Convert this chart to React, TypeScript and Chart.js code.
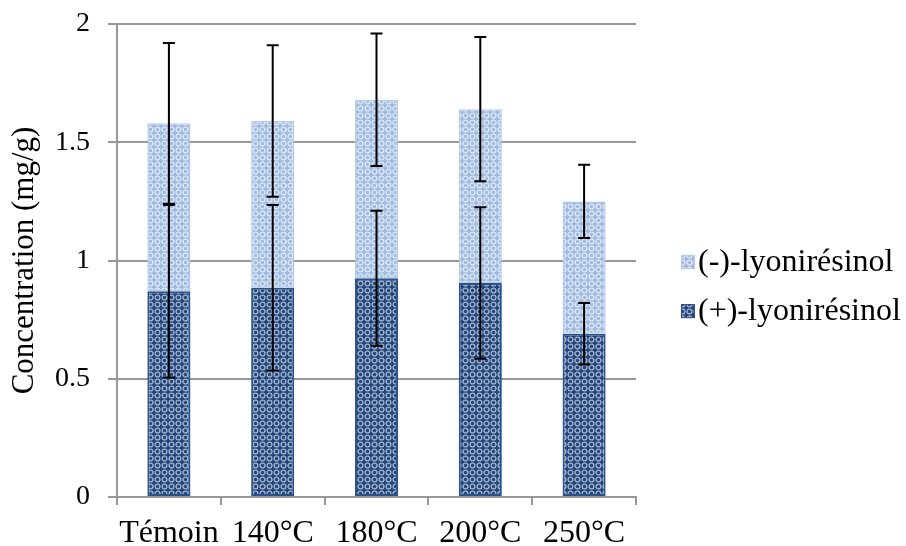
import React, { useEffect, useRef } from "react";
import { Chart, registerables } from "chart.js";

Chart.register(...registerables);

const categories = ["Témoin", "140°C", "180°C", "200°C", "250°C"];
const plusValues = [0.87, 0.885, 0.925, 0.905, 0.69];
const minusValues = [0.71, 0.705, 0.755, 0.735, 0.56];
const plusErrors = [0.365, 0.35, 0.285, 0.32, 0.13];
const minusErrors = [0.34, 0.32, 0.28, 0.305, 0.155];
const seriesLabels = ["(+)-lyonirésinol", "(-)-lyonirésinol"];
const yTicks = [0, 0.5, 1, 1.5, 2];

const FONT = "'Liberation Serif', 'Times New Roman', serif";

function makePattern(base: string, line: string): CanvasPattern | string {
  const n = 7;
  const c = document.createElement("canvas");
  c.width = n;
  c.height = n;
  const g = c.getContext("2d");
  if (!g) return base;
  g.fillStyle = base;
  g.fillRect(0, 0, n, n);
  g.strokeStyle = line;
  g.lineWidth = 1.4;
  g.beginPath();
  g.arc(n / 2, n / 2, 2.4, 0, Math.PI * 2);
  g.stroke();
  const p = g.createPattern(c, "repeat");
  return p || base;
}

const errorBarPlugin = {
  id: "errorBars",
  afterDatasetsDraw(chart: any) {
    const ctx = chart.ctx;
    const yScale = chart.scales.y;
    const errs = [plusErrors, minusErrors];
    ctx.save();
    ctx.strokeStyle = "#000";
    ctx.lineWidth = 2;
    chart.data.datasets.forEach((ds: any, di: number) => {
      const meta = chart.getDatasetMeta(di);
      meta.data.forEach((bar: any, i: number) => {
        let cum = 0;
        for (let k = 0; k <= di; k++) cum += chart.data.datasets[k].data[i];
        const e = errs[di][i];
        const yTop = yScale.getPixelForValue(cum + e);
        const yBot = yScale.getPixelForValue(cum - e);
        const x = bar.x;
        const cap = 6;
        ctx.beginPath();
        ctx.moveTo(x, yTop);
        ctx.lineTo(x, yBot);
        ctx.moveTo(x - cap, yTop);
        ctx.lineTo(x + cap, yTop);
        ctx.moveTo(x - cap, yBot);
        ctx.lineTo(x + cap, yBot);
        ctx.stroke();
      });
    });
    ctx.restore();
  },
};

const legendPlugin = {
  id: "customLegend",
  afterDraw(chart: any) {
    const ctx = chart.ctx;
    const area = chart.chartArea;
    const dsList = chart.data.datasets.slice().reverse();
    const x0 = area.right + 45;
    const yStart = chart.height * 0.48;
    ctx.save();
    ctx.font = `32px ${FONT}`;
    ctx.textBaseline = "middle";
    dsList.forEach((ds: any, i: number) => {
      const cy = yStart + i * 49;
      ctx.fillStyle = ds.backgroundColor;
      ctx.fillRect(x0, cy - 7, 14, 14);
      ctx.strokeStyle = ds.borderColor;
      ctx.lineWidth = 1;
      ctx.strokeRect(x0 + 0.5, cy - 6.5, 13, 13);
      ctx.fillStyle = "#000";
      ctx.fillText(ds.label, x0 + 17, cy + 1);
    });
    ctx.restore();
  },
};

export default function App() {
  const ref = useRef<HTMLCanvasElement | null>(null);

  useEffect(() => {
    document.body.style.margin = "0";
    const canvas = ref.current;
    if (!canvas) return;
    const darkPattern = makePattern("#22457B", "#9FB0C9");
    const lightPattern = makePattern("#9FBAE0", "#DCE6F4");
    const chart = new Chart(canvas, {
      type: "bar",
      data: {
        labels: categories,
        datasets: [
          {
            label: seriesLabels[0],
            data: plusValues,
            backgroundColor: darkPattern as any,
            borderColor: "#2B5289",
            borderWidth: 2,
            borderSkipped: false,
            categoryPercentage: 1,
            barPercentage: 0.415,
          },
          {
            label: seriesLabels[1],
            data: minusValues,
            backgroundColor: lightPattern as any,
            borderColor: "#B4C9E6",
            borderWidth: 1.5,
            borderSkipped: false,
            categoryPercentage: 1,
            barPercentage: 0.415,
          },
        ],
      },
      options: {
        responsive: false,
        animation: false,
        layout: { padding: { top: 24, right: 270, left: 0, bottom: 0 } },
        plugins: {
          legend: { display: false },
          tooltip: { enabled: false },
        },
        scales: {
          x: {
            stacked: true,
            offset: true,
            grid: {
              offset: true,
              drawOnChartArea: false,
              drawTicks: true,
              tickLength: 8,
              color: "#999999",
              lineWidth: 2,
            },
            border: { color: "#999999", width: 2 },
            ticks: {
              color: "#000",
              font: { family: FONT, size: 32 },
              padding: 9,
              maxRotation: 0,
              autoSkip: false,
            },
            afterFit: (s: any) => {
              s.height = 49;
            },
          },
          y: {
            stacked: true,
            min: 0,
            max: 2,
            afterBuildTicks: (s: any) => {
              s.ticks = yTicks.map((v) => ({ value: v }));
            },
            grid: {
              color: "#999999",
              lineWidth: 2,
              drawTicks: true,
              tickLength: 9,
            },
            border: { color: "#999999", width: 2 },
            ticks: {
              color: "#000",
              font: { family: FONT, size: 28 },
              padding: 18,
              callback: (v: any) => String(v),
            },
            title: {
              display: true,
              text: "Concentration (mg/g)",
              color: "#000",
              font: { family: FONT, size: 31 },
              padding: { top: 6, bottom: 0 },
            },
            afterFit: (s: any) => {
              s.width = 117;
              s.paddingTop = 10;
              s.paddingBottom = 10;
            },
          },
        },
      },
      plugins: [errorBarPlugin, legendPlugin],
    });
    return () => chart.destroy();
  }, []);

  return (
    <div style={{ width: 906, height: 546, background: "#fff" }}>
      <canvas ref={ref} width={906} height={546} />
    </div>
  );
}
